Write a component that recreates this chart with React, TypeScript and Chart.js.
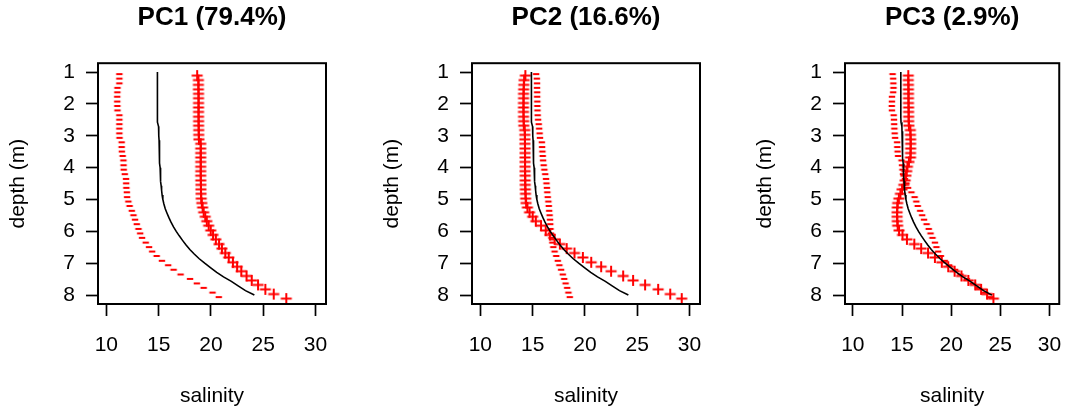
import React, { useEffect, useRef } from "react";
import { Chart, registerables } from "chart.js";

Chart.register(...registerables);

// ---------------- data ----------------
const depth = [
  1.0, 1.14, 1.29, 1.43, 1.57, 1.71, 1.86, 2.0, 2.14, 2.29,
  2.43, 2.57, 2.71, 2.86, 3.0, 3.14, 3.29, 3.43, 3.57, 3.71,
  3.86, 4.0, 4.14, 4.29, 4.43, 4.57, 4.71, 4.86, 5.0, 5.14,
  5.29, 5.43, 5.57, 5.71, 5.86, 6.0, 6.14, 6.29, 6.43, 6.57,
  6.71, 6.86, 7.0, 7.14, 7.29, 7.43, 7.57, 7.71, 7.86, 8.0,
];

const meanSalinity = [
  14.88, 14.88, 14.88, 14.88, 14.88, 14.88, 14.88, 14.88, 14.88, 14.88,
  14.89, 14.9, 14.99, 15.0, 15.02, 15.04, 15.05, 15.06, 15.08, 15.1,
  15.12, 15.14, 15.16, 15.18, 15.21, 15.24, 15.28, 15.33, 15.4, 15.5,
  15.63, 15.8, 15.98, 16.18, 16.42, 16.68, 16.97, 17.3, 17.62, 17.98,
  18.4, 18.88, 19.4, 19.95, 20.55, 21.2, 21.95, 22.6, 23.3, 24.15,
];

const pc1Plus = [
  18.68, 18.8, 18.8, 18.8, 18.81, 18.81, 18.81, 18.81, 18.81, 18.81,
  18.82, 18.82, 18.83, 18.83, 18.85, 19.02, 19.02, 19.02, 19.02, 19.02,
  19.02, 19.02, 19.02, 19.03, 19.04, 19.04, 19.05, 19.07, 19.12, 19.2,
  19.3, 19.45, 19.6, 19.78, 19.98, 20.2, 20.47, 20.77, 21.05, 21.37,
  21.7, 22.1, 22.5, 22.9, 23.4, 23.9, 24.5, 25.2, 26.0, 27.2,
];
const pc1Minus = [
  11.24, 11.24, 11.24, 11.06, 11.05, 11.04, 11.04, 11.05, 11.06, 11.24,
  11.24, 11.24, 11.24, 11.24, 11.26, 11.46, 11.46, 11.48, 11.56, 11.63,
  11.64, 11.66, 11.76, 11.88, 11.89, 11.91, 11.96, 11.98, 12.1, 12.22,
  12.43, 12.59, 12.74, 12.91, 13.07, 13.23, 13.41, 13.76, 14.08, 14.38,
  14.81, 15.31, 15.91, 16.43, 17.1, 18.0, 18.65, 19.3, 20.15, 20.75,
];

const pc2Plus = [
  14.3, 14.18, 14.15, 14.14, 14.13, 14.13, 14.12, 14.12, 14.12, 14.13,
  14.14, 14.15, 14.24, 14.25, 14.26, 14.26, 14.27, 14.27, 14.27, 14.27,
  14.27, 14.27, 14.28, 14.28, 14.29, 14.3, 14.31, 14.33, 14.37, 14.5,
  14.7, 15.0, 15.3, 15.8, 16.25, 16.65, 17.1, 17.6, 18.25, 19.0,
  19.8, 20.6, 21.55, 22.5, 23.65, 24.6, 25.75, 27.0, 28.15, 29.25,
];
const pc2Minus = [
  15.33, 15.4, 15.42, 15.42, 15.43, 15.43, 15.44, 15.45, 15.46, 15.48,
  15.52, 15.58, 15.62, 15.66, 15.7, 15.88, 15.9, 15.93, 15.96, 16.0,
  16.05, 16.12, 16.2, 16.28, 16.32, 16.36, 16.4, 16.44, 16.5, 16.54,
  16.58, 16.62, 16.66, 16.68, 16.7, 16.74, 16.8, 16.88, 16.98, 17.1,
  17.25, 17.4, 17.55, 17.72, 17.88, 18.02, 18.15, 18.3, 18.42, 18.55,
];

const pc3Plus = [
  15.64, 15.64, 15.65, 15.65, 15.66, 15.66, 15.66, 15.67, 15.67, 15.68,
  15.68, 15.7, 15.85, 15.86, 15.88, 15.88, 15.88, 15.87, 15.86, 15.7,
  15.55, 15.48, 15.4, 15.32, 15.18, 15.0, 14.84, 14.68, 14.56, 14.52,
  14.5, 14.5, 14.52, 14.56, 14.7, 15.05, 15.5, 16.25, 16.95, 17.65,
  18.35, 19.05, 19.7, 20.35, 21.05, 21.75, 22.45, 23.05, 23.65, 24.3,
];
const pc3Minus = [
  14.04, 14.1, 14.12, 14.13, 14.1, 13.98, 13.97, 13.96, 13.97, 14.15,
  14.18, 14.2, 14.22, 14.25, 14.3, 14.5, 14.52, 14.55, 14.6, 14.95,
  15.0, 15.05, 15.1, 15.3, 15.45, 15.62, 15.96, 16.28, 16.45, 16.6,
  16.85, 17.05, 17.24, 17.5, 17.72, 17.9, 18.1, 18.35, 18.5, 18.68,
  18.95, 19.35, 19.8, 20.4, 20.95, 21.6, 22.2, 22.8, 23.45, 24.0,
];

const panelTitles = ["PC1 (79.4%)", "PC2 (16.6%)", "PC3 (2.9%)"];
const plusSeries = [pc1Plus, pc2Plus, pc3Plus];
const minusSeries = [pc1Minus, pc2Minus, pc3Minus];
const salinityTicks = [10, 15, 20, 25, 30];
const depthTicks = [1, 2, 3, 4, 5, 6, 7, 8];
const xAxisTitle = "salinity";
const yAxisTitle = "depth (m)";

// ---------------- layout / style ----------------
const W = 1079;
const H = 414;
const BOX_W = 228;
const BOX_LEFTS = [98, 472, 845];
const Y_AXIS_W = 98;
const X_AXIS_H = 110;
const FONT = "'Liberation Sans', Arial, Helvetica, sans-serif";
const RED = "rgb(255,0,0)";

function makePlusMarker(): HTMLCanvasElement {
  const c = document.createElement("canvas");
  c.width = 16;
  c.height = 24;
  const g = c.getContext("2d")!;
  g.strokeStyle = RED;
  g.lineWidth = 2;
  const cy = 15.5;
  g.beginPath();
  g.moveTo(2.5, cy);
  g.lineTo(13.5, cy);
  g.moveTo(8, cy - 5.5);
  g.lineTo(8, cy + 5.5);
  g.stroke();
  return c;
}

function makeMinusMarker(): HTMLCanvasElement {
  const c = document.createElement("canvas");
  c.width = 10;
  c.height = 20;
  const g = c.getContext("2d")!;
  g.strokeStyle = RED;
  g.lineWidth = 2;
  g.beginPath();
  g.moveTo(1.8, 12);
  g.lineTo(8.2, 12);
  g.stroke();
  return c;
}

const boxPlugin = {
  id: "rbox",
  afterDatasetsDraw(chart: any) {
    const { ctx, chartArea: a } = chart;
    ctx.save();
    ctx.strokeStyle = "#000";
    ctx.lineWidth = 2;
    ctx.strokeRect(a.left, a.top, a.right - a.left, a.bottom - a.top);
    ctx.restore();
  },
};

function Panel({ index }: { index: number }) {
  const ref = useRef<HTMLCanvasElement | null>(null);
  useEffect(() => {
    const canvas = ref.current;
    if (!canvas) return;
    const boxLeft = BOX_LEFTS[index];
    const plus = plusSeries[index];
    const minus = minusSeries[index];
    const tickFont = { family: FONT, size: 21 };
    const chart = new Chart(canvas, {
      type: "scatter",
      data: {
        datasets: [
          {
            data: depth.map((d, i) => ({ x: meanSalinity[i], y: d })),
            showLine: true,
            borderColor: "#000",
            borderWidth: 1.6,
            pointRadius: 0,
            tension: 0,
          },
          {
            data: depth.map((d, i) => ({ x: plus[i], y: d })),
            showLine: false,
            pointStyle: makePlusMarker() as any,
            pointRadius: 6,
          },
          {
            data: depth.map((d, i) => ({ x: minus[i], y: d })),
            showLine: false,
            pointStyle: makeMinusMarker() as any,
            pointRadius: 4,
          },
        ],
      },
      options: {
        responsive: false,
        animation: false,
        events: [],
        layout: {
          padding: {
            left: boxLeft - Y_AXIS_W,
            right: W - boxLeft - BOX_W,
            top: 0,
            bottom: 0,
          },
        },
        plugins: {
          legend: { display: false },
          tooltip: { enabled: false },
          title: {
            display: true,
            text: panelTitles[index],
            fullSize: false,
            color: "#000",
            font: { family: FONT, size: 26, weight: "bold" },
            padding: { top: 2, bottom: 30 },
          },
        },
        scales: {
          x: {
            type: "linear",
            position: "bottom",
            min: 9.2,
            max: 31.0,
            afterBuildTicks: (s: any) => {
              s.ticks = salinityTicks.map((v) => ({ value: v }));
            },
            afterFit: (s: any) => {
              s.height = X_AXIS_H;
            },
            border: { display: false },
            grid: {
              display: true,
              drawOnChartArea: false,
              drawTicks: true,
              tickLength: 12,
              tickWidth: 1.7,
              tickColor: "#000",
            },
            ticks: {
              color: "#000",
              font: tickFont,
              padding: 17,
              autoSkip: false,
              maxRotation: 0,
              callback: (v: any) => String(v),
            },
            title: {
              display: true,
              text: xAxisTitle,
              color: "#000",
              font: tickFont,
              padding: { top: 0, bottom: 5 },
            },
          },
          y: {
            type: "linear",
            position: "left",
            reverse: true,
            min: 0.72,
            max: 8.28,
            afterBuildTicks: (s: any) => {
              s.ticks = depthTicks.map((v) => ({ value: v }));
            },
            afterFit: (s: any) => {
              s.width = Y_AXIS_W;
            },
            border: { display: false },
            grid: {
              display: true,
              drawOnChartArea: false,
              drawTicks: true,
              tickLength: 12,
              tickWidth: 1.7,
              tickColor: "#000",
            },
            ticks: {
              color: "#000",
              font: tickFont,
              padding: 11,
              autoSkip: false,
              callback: (v: any) => String(v),
            },
            title: {
              display: true,
              text: yAxisTitle,
              color: "#000",
              font: tickFont,
              padding: { top: 6, bottom: 0 },
            },
          },
        },
      } as any,
      plugins: [boxPlugin],
    });
    return () => chart.destroy();
  }, [index]);
  return (
    <canvas
      ref={ref}
      width={W}
      height={H}
      style={{ position: "absolute", left: 0, top: 0, width: W, height: H }}
    />
  );
}

export default function App() {
  return (
    <div
      style={{
        position: "absolute",
        left: 0,
        top: 0,
        width: W,
        height: H,
        background: "#fff",
        overflow: "hidden",
      }}
    >
      <Panel index={0} />
      <Panel index={1} />
      <Panel index={2} />
    </div>
  );
}
